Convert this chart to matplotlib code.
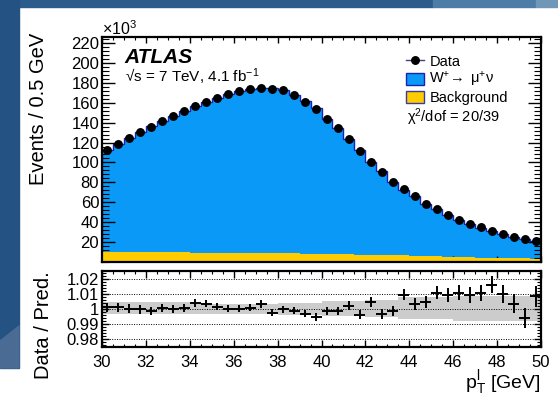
import numpy as np
import matplotlib
matplotlib.use("Agg")
import matplotlib.pyplot as plt
from matplotlib.patches import Rectangle, Polygon, Patch
from matplotlib.lines import Line2D
from matplotlib.ticker import MultipleLocator, FuncFormatter

plt.rcParams['font.family'] = ['Liberation Sans', 'DejaVu Sans']
plt.rcParams['mathtext.fontset'] = 'custom'
plt.rcParams['mathtext.rm'] = 'Liberation Sans'
plt.rcParams['mathtext.it'] = 'Liberation Sans:italic'
plt.rcParams['mathtext.bf'] = 'Liberation Sans:bold'

# ---- data (x10^3 events per 0.5 GeV) ----
bin_edges = np.arange(30.0, 50.01, 0.5)
data = [112.3, 118.6, 124.9, 130.3, 136.0, 141.4, 146.7, 151.8, 156.8, 160.8,
        164.8, 168.5, 171.5, 173.9, 175.2, 174.2, 172.9, 167.8, 161.1, 153.4,
        143.7, 134.4, 123.6, 111.9, 100.8, 90.8, 80.7, 73.4, 66.3, 58.3,
        53.3, 47.6, 42.5, 38.2, 34.9, 31.2, 28.1, 25.4, 22.8, 21.4]
background = [10.3, 10.2, 10.1, 10.0, 9.9, 9.8, 9.7, 9.6, 9.5, 9.4,
              9.3, 9.2, 9.1, 9.0, 8.9, 8.8, 8.7, 8.6, 8.4, 8.2,
              8.0, 7.8, 7.6, 7.4, 7.2, 7.0, 6.8, 6.6, 6.3, 6.0,
              5.7, 5.4, 5.1, 4.8, 4.5, 4.3, 4.1, 3.9, 3.7, 3.5]
ratio = [1.0012, 1.0012, 1.0003, 0.9997, 0.9986, 1.0008, 1.0001, 1.0008, 1.0038, 1.0036,
         1.0016, 1.0001, 1.0003, 1.0008, 1.0032, 0.9975, 0.9997, 0.9990, 0.9970, 0.9949,
         0.9984, 0.9986, 1.0023, 0.9962, 1.0047, 0.9964, 0.9986, 1.0095, 1.0034, 1.0045,
         1.0106, 1.0089, 1.0106, 1.0091, 1.0104, 1.0161, 1.0100, 1.0034, 0.9942, 1.0084]
ratio_err = [0.0030, 0.0029, 0.0028, 0.0028, 0.0027, 0.0027, 0.0026, 0.0026, 0.0025, 0.0025,
             0.0025, 0.0024, 0.0024, 0.0024, 0.0024, 0.0024, 0.0024, 0.0024, 0.0025, 0.0026,
             0.0026, 0.0027, 0.0028, 0.0030, 0.0032, 0.0033, 0.0035, 0.0037, 0.0039, 0.0041,
             0.0043, 0.0046, 0.0049, 0.0051, 0.0054, 0.0057, 0.0060, 0.0063, 0.0066, 0.0068]
band_hi = [1.0044] * 8 + [1.0036] * 8 + [1.0042] * 4 + [1.0050] * 4 + [1.0056] * 3 + [1.0080] * 5 + [1.0088] * 8
band_lo = [0.9964] * 8 + [0.9968] * 8 + [0.9962] * 4 + [0.9954] * 4 + [0.9946] * 3 + [0.9935] * 5 + [0.9920] * 8
x_ticks = [30, 32, 34, 36, 38, 40, 42, 44, 46, 48, 50]
y_ticks = [20, 40, 60, 80, 100, 120, 140, 160, 180, 200, 220]
r_ticks = [0.98, 0.99, 1.0, 1.01, 1.02]

data_a = np.array(data)
ratio_a = np.array(ratio)
pred = data_a / ratio_a
centers = 0.5 * (bin_edges[:-1] + bin_edges[1:])

W, H = 558, 397
fig = plt.figure(figsize=(W / 100, H / 100), dpi=100)
fig.patch.set_facecolor('white')

# slide background strips
def frect(x0, y0, x1, y1, color):
    fig.patches.append(Rectangle((x0 / W, 1 - y1 / H), (x1 - x0) / W, (y1 - y0) / H,
                                 transform=fig.transFigure, color=color, zorder=-10))
frect(0, 0, 433, 7, '#2b5c8c')
frect(433, 0, 536, 7, '#4d7ca6')
frect(536, 0, 558, 7, '#7096b8')
frect(0, 0, 19, 368, '#245282')
fig.patches.append(Polygon([(0, 1 - 341 / H), (19 / W, 1 - 326 / H), (19 / W, 1 - 368 / H), (0, 1 - 368 / H)],
                           closed=True, transform=fig.transFigure, color='#4a6c94', zorder=-9))

L, R = 102, 541
ax = fig.add_axes([L / W, 1 - 262 / H, (R - L) / W, (262 - 37) / H])
ax2 = fig.add_axes([L / W, 1 - 347 / H, (R - L) / W, (347 - 271) / H])

blue = '#0a99f7'
yellow = '#ffcc00'
ax.stairs(pred, bin_edges, fill=True, color=blue, zorder=1)
ax.stairs(pred, bin_edges, color='#1a22b0', lw=1.0, zorder=1.5)
ax.stairs(background, bin_edges, fill=True, color=yellow, zorder=2)
ax.plot(centers, data, 'o', color='black', ms=5.4, zorder=4)

ax.set_xlim(30, 50)
ax.set_ylim(0, 226)
ax.set_yticks(y_ticks)
ax.yaxis.set_minor_locator(MultipleLocator(4))
ax.set_xticks(x_ticks)
ax.xaxis.set_minor_locator(MultipleLocator(0.5))
ax.tick_params(which='both', direction='in', top=True, right=True, labelbottom=False)
ax.tick_params(axis='y', which='major', length=9.5, width=1.0, labelsize=12, pad=2)
ax.tick_params(axis='y', which='minor', length=5, width=0.8)
ax.tick_params(axis='x', which='major', length=4.5, width=1.0)
ax.tick_params(axis='x', which='minor', length=2.5, width=0.8)
for s in ax.spines.values():
    s.set_linewidth(1.6)

ax.set_ylabel('Events / 0.5 GeV', fontsize=14.5)
ax.yaxis.set_label_coords(-0.1223, 1.018)
ax.yaxis.label.set_ha('right')

ax.text(0.0, 1.009, r'$\times$10$^{3}$', transform=ax.transAxes, fontsize=11.5, va='baseline', ha='left')
ax.text(0.052, 0.886, 'ATLAS', transform=ax.transAxes, fontsize=15, fontweight='bold',
        fontstyle='italic', va='baseline', ha='left')
ax.text(0.052, 0.798, '\u221as = 7 TeV, 4.1 fb$^{-1}$', transform=ax.transAxes, fontsize=11,
        va='baseline', ha='left')
ax.text(0.695, 0.624, r'$\mathrm{\chi}^{2}$/dof = 20/39', transform=ax.transAxes, fontsize=10.5,
        va='baseline', ha='left')

handles = [Line2D([], [], color='#40409a', lw=1.0, marker='o', ms=5.4, mfc='black', mec='black'),
           Patch(facecolor=blue, edgecolor='#1a22b0', lw=1.0),
           Patch(facecolor=yellow, edgecolor='#3a3aa0', lw=1.0)]
labels = ['Data', r'W$^{+}\!\rightarrow\;\mathrm{\mu}^{+}\mathrm{\nu}$', 'Background']
ax.legend(handles, labels, loc='upper left', bbox_to_anchor=(0.6925, 0.922), frameon=False,
          fontsize=10.5, borderpad=0, borderaxespad=0, handlelength=1.25, handleheight=0.9,
          handletextpad=0.35, labelspacing=0.12)

# ratio panel
ax2.stairs(band_hi, bin_edges, baseline=band_lo, fill=True, color='#cccccc', lw=0, zorder=1)
ax2.errorbar(centers, ratio, xerr=0.25, yerr=ratio_err, fmt='none', ecolor='black',
             elinewidth=1.4, capsize=0, zorder=4)
ax2.set_xlim(30, 50)
ax2.set_ylim(0.975, 1.025)
ax2.set_yticks(r_ticks)
ax2.yaxis.set_major_formatter(FuncFormatter(lambda v, p: '%g' % round(v, 3)))
ax2.yaxis.set_minor_locator(MultipleLocator(0.002))
ax2.set_xticks(x_ticks)
ax2.xaxis.set_minor_locator(MultipleLocator(0.5))
ax2.set_axisbelow(False)
ax2.yaxis.grid(True, which='major', linestyle=(0, (1, 1.5)), color='black', lw=0.7)
ax2.tick_params(which='both', direction='in', top=True, right=True)
ax2.tick_params(axis='y', which='major', length=5, width=1.0, labelsize=12, pad=2)
ax2.tick_params(axis='y', which='minor', length=3, width=0.8)
ax2.tick_params(axis='x', which='major', length=5, width=1.0, labelsize=12, pad=6)
ax2.tick_params(axis='x', which='minor', length=2.5, width=0.8)
for s in ax2.spines.values():
    s.set_linewidth(1.6)

ax2.set_ylabel('Data / Pred.', fontsize=14.5)
ax2.yaxis.set_label_coords(-0.1125, 1.0)
ax2.yaxis.label.set_ha('right')

ax2.text(1.0, -0.54, r'p$_{\mathrm{T}}^{\mathrm{l}}$ [GeV]', transform=ax2.transAxes,
         fontsize=14, ha='right', va='baseline')

fig.savefig('out.png', dpi=100)
